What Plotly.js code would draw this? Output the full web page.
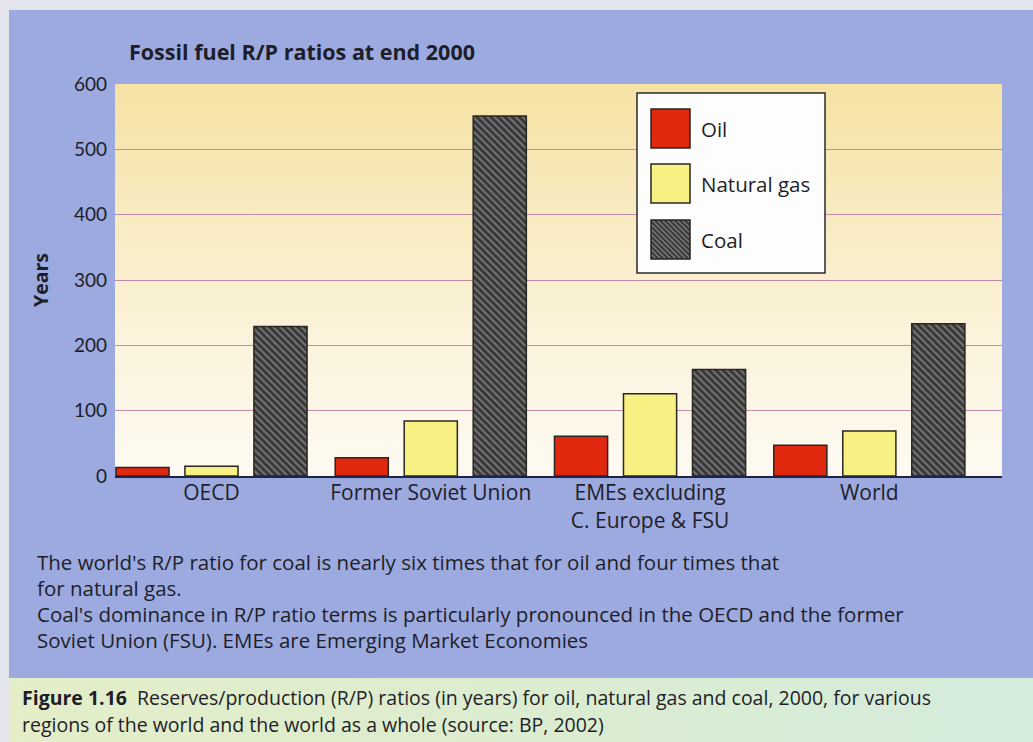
<!DOCTYPE html>
<html>
<head>
<meta charset="utf-8">
<script src="https://cdn.plot.ly/plotly-3.0.1.min.js"></script>
<style>
  html, body { margin:0; padding:0; width:1033px; height:742px; overflow:hidden; background:#e4e4ec; }
  #blue { position:absolute; left:9px; top:10px; width:1024px; height:668px; background:#9caae0; }
  #green { position:absolute; left:9px; top:678px; width:1024px; height:64px;
           background:linear-gradient(to right, #e4eec8 0%, #dcecd0 50%, #d4ecdc 100%); }
  #plotbg { position:absolute; left:115px; top:84px; width:887px; height:392px;
            background:linear-gradient(to bottom, #f6e2a4 0%, #f8ebc2 35%, #fbf3dc 65%, #fdfaf2 100%); }
  #chart { position:absolute; left:0; top:0; width:1033px; height:742px; }
</style>
</head>
<body>
<div id="blue"></div>
<div id="green"></div>
<div id="plotbg"></div>
<div id="chart"></div>
<script>
// ---- data ----
const categories = ["OECD", "Former Soviet Union", "EMEs excluding<br>C. Europe & FSU", "World"];
const seriesNames = ["Oil", "Natural gas", "Coal"];
const oilValues = [13, 28, 61, 47];
const gasValues = [15, 84, 126, 69];
const coalValues = [229, 551, 163, 233];
const yTickVals = [0, 100, 200, 300, 400, 500, 600];
const chartTitle = "Fossil fuel R/P ratios at end 2000";
const yTitle = "Years";
const noteLines = [
  "The world's R/P ratio for coal is nearly six times that for oil and four times that",
  "for natural gas.",
  "Coal's dominance in R/P ratio terms is particularly pronounced in the OECD and the former",
  "Soviet Union (FSU). EMEs are Emerging Market Economies"
];
const captionBold = "Figure 1.16";
const captionLines = [
  "Reserves/production (R/P) ratios (in years) for oil, natural gas and coal, 2000, for various",
  "regions of the world and the world as a whole (source: BP, 2002)"
];

// ---- geometry helpers (pixel -> paper) ----
const PL = 115, PR = 1002, PT = 84, PB = 476;
const px = x => (x - PL) / (PR - PL);
const py = y => (PB - y) / (PB - PT);

const FONT = "'Open Sans', Lato, sans-serif";
const TXT = "#1e1e28";
const outline = {color: "#2a2620", width: 1.5};

const traces = [
  {type: "bar", name: seriesNames[0], x: categories, y: oilValues,
   marker: {color: "#e0280e", line: outline}},
  {type: "bar", name: seriesNames[1], x: categories, y: gasValues,
   marker: {color: "#f7f184", line: outline}},
  {type: "bar", name: seriesNames[2], x: categories, y: coalValues,
   marker: {color: "#3c3c3c", line: outline,
            pattern: {shape: "\\", bgcolor: "#383838", fgcolor: "#787878", size: 5, solidity: 0.38, fillmode: "replace"}}}
];

// ---- custom legend ----
const legBox = {x0: 637, x1: 825, y0: 93, y1: 273};
const swatchTops = [109, 164, 220];
const swatchColors = ["#e0280e", "#f7f184", "#383838"];
const SW = 39;
const shapes = [
  {type: "rect", xref: "paper", yref: "paper", x0: px(legBox.x0), x1: px(legBox.x1), y0: py(legBox.y1), y1: py(legBox.y0),
   fillcolor: "#fdfdfd", line: {color: "#2a2a2a", width: 1.5}, layer: "above"}
];
const annotations = [];
seriesNames.forEach((n, i) => {
  const t = swatchTops[i], l = 651;
  shapes.push({type: "rect", xref: "paper", yref: "paper", x0: px(l), x1: px(l + SW), y0: py(t + SW), y1: py(t),
               fillcolor: swatchColors[i], line: {width: 0}, layer: "above"});
  if (i === 2) {
    for (let c = -SW + 3; c < SW; c += 5) {
      const u0 = Math.max(0, -c), u1 = Math.min(SW, SW - c);
      shapes.push({type: "line", xref: "paper", yref: "paper",
                   x0: px(l + u0), y0: py(t + u0 + c), x1: px(l + u1), y1: py(t + u1 + c),
                   line: {color: "#787878", width: 1.6}, layer: "above"});
    }
  }
  shapes.push({type: "rect", xref: "paper", yref: "paper", x0: px(l), x1: px(l + SW), y0: py(t + SW), y1: py(t),
               fillcolor: "rgba(0,0,0,0)", line: {color: "#2a2620", width: 1.5}, layer: "above"});
  annotations.push({xref: "paper", yref: "paper", x: px(699), y: py(t + 20), xanchor: "left", yanchor: "middle",
                    text: n, showarrow: false, font: {family: FONT, size: 20.5, color: TXT}});
});

// ---- notes and caption ----
const noteY = [562, 588, 614, 640];
noteLines.forEach((s, i) => annotations.push({xref: "paper", yref: "paper", x: px(35), y: py(noteY[i]),
  xanchor: "left", yanchor: "middle", text: s, showarrow: false, font: {family: FONT, size: 20.5, color: TXT}}));
const capY = [697, 724];
annotations.push({xref: "paper", yref: "paper", x: px(20), y: py(capY[0]), xanchor: "left", yanchor: "middle",
  text: "<b>" + captionBold + "</b>  " + captionLines[0], showarrow: false, font: {family: FONT, size: 19.5, color: TXT}});
annotations.push({xref: "paper", yref: "paper", x: px(20), y: py(capY[1]), xanchor: "left", yanchor: "middle",
  text: captionLines[1], showarrow: false, font: {family: FONT, size: 19.5, color: TXT}});

const layout = {
  width: 1033, height: 742,
  margin: {l: PL, r: 1033 - PR, t: PT, b: 742 - PB, pad: 0},
  paper_bgcolor: "rgba(0,0,0,0)", plot_bgcolor: "rgba(0,0,0,0)",
  font: {family: FONT, color: TXT},
  title: {text: "<b>" + chartTitle + "</b>", xref: "paper", x: px(129), xanchor: "left",
          yref: "container", y: 1 - 52 / 742, yanchor: "middle", font: {family: FONT, size: 21.5, color: TXT}},
  showlegend: false,
  barmode: "group", bargap: 0.056, bargroupgap: 0.23,
  xaxis: {range: [-0.44, 3.605], showgrid: false, zeroline: false, showline: true, linecolor: "#1c2448", linewidth: 2,
          ticks: "", tickfont: {family: FONT, size: 21, color: TXT}, ticklabelstandoff: -3, fixedrange: true},
  yaxis: {range: [0, 600], tickvals: yTickVals, showgrid: true, gridcolor: "#c08aa8", gridwidth: 1,
          zeroline: false, showline: false, ticks: "", ticklabelstandoff: 7,
          tickfont: {family: "Lato, sans-serif", size: 19, color: TXT},
          title: {text: "<b>" + yTitle + "</b>", font: {family: FONT, size: 19.5, color: TXT}, standoff: 20}},
  shapes: shapes, annotations: annotations
};

Plotly.newPlot("chart", traces, layout, {displayModeBar: false, staticPlot: true});
</script>
</body>
</html>
